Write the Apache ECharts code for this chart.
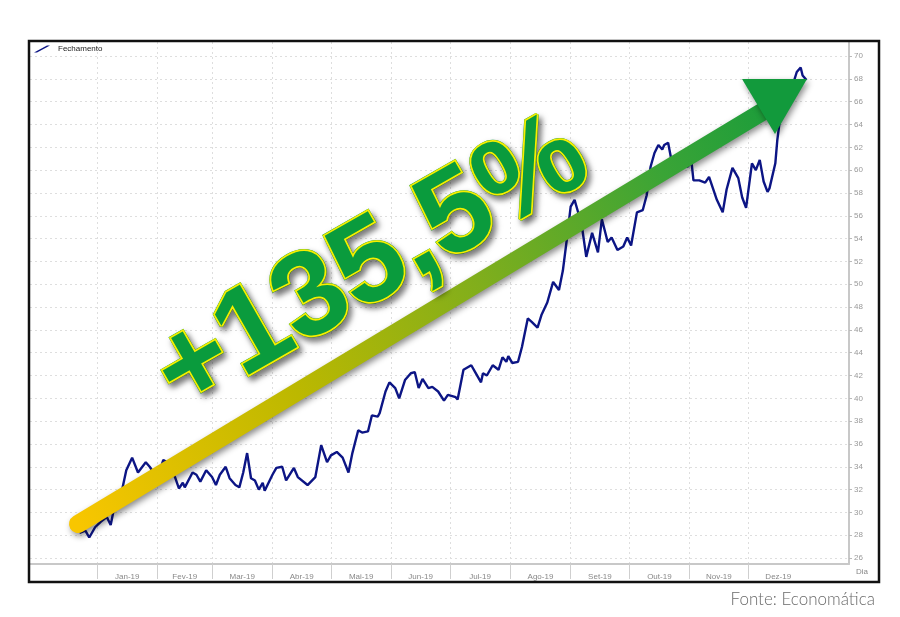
<!DOCTYPE html>
<html>
<head>
<meta charset="utf-8">
<title>Fechamento 2019</title>
<script src="https://cdn.jsdelivr.net/npm/echarts@6/dist/echarts.min.js"></script>
<style>
  html, body { margin: 0; padding: 0; background: #fff; }
  #chart { width: 900px; height: 617px; }
</style>
</head>
<body>
<div id="chart"></div>
<script>
// dias contados a partir de 01/01/2019 (negativo = dezembro/2018)
var dias = [-9, -6, -4, -1, 2, 5, 7, 9, 13, 15, 18, 21, 25, 27, 31, 34, 36, 38, 40, 42,
  44, 45, 49, 51, 53, 56, 59, 61, 63, 66, 68, 71, 73, 75, 77, 79, 81, 83, 85, 86,
  90, 92, 95, 97, 101, 103, 108, 112, 115, 118, 120, 123, 126, 129, 131, 134, 136, 139, 141, 144,
  145, 148, 150, 153, 155, 158, 161, 163, 164, 165, 167, 170, 172, 175, 178, 180, 184, 185, 188, 192,
  194, 197, 198, 200, 203, 206, 208, 210, 211, 213, 216, 218, 221, 223, 226, 228, 231, 234, 237, 239,
  241, 243, 245, 247, 249, 251, 254, 257, 259, 262, 264, 267, 270, 272, 274, 277, 280, 282, 284, 286,
  288, 290, 291, 293, 295, 299, 303, 305, 306, 309, 312, 314, 316, 318, 321, 323, 326, 329, 331, 333,
  336, 338, 340, 342, 344, 345, 348, 349, 351, 354, 357, 359, 361, 362, 364];

var fechamento = [28.2, 28.4, 27.8, 28.7, 29.2, 29.6, 28.9, 30.6, 32.1, 33.7, 34.8, 33.5, 34.4, 34.0, 33.0, 34.6, 34.4, 33.7, 33.1, 32.1,
  32.6, 32.2, 33.5, 33.3, 32.7, 33.7, 33.1, 32.4, 33.3, 34.0, 33.0, 32.4, 32.2, 33.5, 35.2, 33.0, 32.8, 32.0, 32.6, 31.9,
  33.3, 33.9, 34.0, 32.8, 33.9, 33.1, 32.4, 33.1, 35.9, 34.4, 35.0, 35.3, 34.8, 33.5, 35.2, 37.2, 37.0, 37.1, 38.5, 38.4,
  38.7, 40.6, 41.4, 40.9, 40.0, 41.6, 42.2, 42.3, 42.2, 40.9, 41.7, 40.9, 41.0, 40.6, 39.8, 40.3, 40.1, 39.9, 42.5, 42.9,
  42.3, 41.4, 42.2, 42.0, 42.9, 42.5, 43.6, 43.2, 43.7, 43.1, 43.2, 44.5, 47.0, 46.7, 46.2, 47.3, 48.4, 50.2, 49.5, 51.2,
  53.9, 56.8, 57.4, 56.2, 54.8, 52.4, 54.5, 52.8, 55.7, 53.7, 54.1, 53.0, 53.3, 54.1, 53.4, 56.3, 56.5, 57.8, 60.3, 61.5,
  62.2, 61.8, 62.2, 62.4, 60.6, 60.5, 60.3, 60.7, 59.1, 59.1, 58.9, 59.4, 58.4, 57.4, 56.3, 58.3, 60.2, 59.3, 57.6, 56.7,
  60.6, 60.0, 60.9, 59.0, 58.1, 58.4, 60.6, 62.6, 65.3, 66.6, 67.5, 68.6, 69.0, 68.3, 67.9];

// inicio de cada mes e meio do mes (em dias)
var iniciosMes = [0, 31, 59, 90, 120, 151, 181, 212, 243, 273, 304, 334];
var meiosMes = [15.5, 45, 74.5, 105, 135.5, 166, 196.5, 227.5, 258, 288.5, 319, 349.5];
var nomesMes = ['Jan-19', 'Fev-19', 'Mar-19', 'Abr-19', 'Mai-19', 'Jun-19',
  'Jul-19', 'Ago-19', 'Set-19', 'Out-19', 'Nov-19', 'Dez-19'];
var ticksY = [26, 28, 30, 32, 34, 36, 38, 40, 42, 44, 46, 48, 50, 52, 54, 56, 58, 60, 62, 64, 66, 68, 70];

var chart = echarts.init(document.getElementById('chart'));

var pontos = dias.map(function (d, i) { return [d, fechamento[i]]; });

var gradSeta = {
  type: 'linear', x: 78, y: 524, x2: 806, y2: 80, global: true,
  colorStops: [
    { offset: 0, color: '#f8c600' },
    { offset: 0.3, color: '#bcb800' },
    { offset: 0.55, color: '#80ae1c' },
    { offset: 0.8, color: '#3aa436' },
    { offset: 1, color: '#129a3c' }
  ]
};

var fonteTexto = 'bold 120px "Liberation Sans", Arial, sans-serif';

chart.setOption({
  animation: false,
  textStyle: { fontFamily: 'Liberation Sans, Arial, sans-serif' },
  legend: {
    left: 34, top: 45, padding: 0,
    itemWidth: 16, itemHeight: 7,
    symbolKeepAspect: false,
    icon: 'path://M0,7 L13,0 L16,0 L3,7 Z',
    textStyle: { fontSize: 8, color: '#222', padding: [0, 0, 0, 3] },
    data: ['Fechamento']
  },
  grid: { left: 30, right: 51, top: 42, bottom: 53 },
  xAxis: {
    type: 'value',
    min: -34.4, max: 385.8,
    name: 'Dia', nameLocation: 'end', nameGap: 7,
    nameTextStyle: { fontSize: 8, color: '#888', verticalAlign: 'top', padding: [4, 0, 0, 0] },
    axisLine: { onZero: false, lineStyle: { color: '#c8c8c8', width: 2 } },
    axisTick: { show: true, customValues: iniciosMes, length: 15, lineStyle: { color: '#cfcfcf' } },
    axisLabel: {
      customValues: meiosMes, fontSize: 8, color: '#888', margin: 9,
      formatter: function (v) { return nomesMes[meiosMes.indexOf(v)] || ''; }
    },
    splitLine: { show: true, lineStyle: { color: '#dedede', type: [2, 3] } }
  },
  yAxis: {
    type: 'value', position: 'right',
    min: 25.48, max: 71.23,
    axisLine: { show: true, onZero: false, lineStyle: { color: '#c8c8c8', width: 2 } },
    axisTick: { show: true, customValues: ticksY, length: 3, lineStyle: { color: '#bbb' } },
    axisLabel: { customValues: ticksY, fontSize: 8, color: '#999', margin: 5 },
    splitLine: { show: true, lineStyle: { color: '#dedede', type: [2, 3] } }
  },
  series: [{
    name: 'Fechamento',
    type: 'line',
    data: pontos,
    showSymbol: false,
    symbol: 'none',
    color: '#0c1585',
    lineStyle: { width: 2.4, color: '#0c1585' }
  }],
  graphic: [
    // moldura
    { type: 'rect', z: 50, silent: true,
      shape: { x: 29, y: 41, width: 850, height: 541 },
      style: { fill: 'none', stroke: '#111', lineWidth: 2.5 } },
    // corpo da seta
    { type: 'line', z: 100, silent: true,
      shape: { x1: 78, y1: 524, x2: 762, y2: 112 },
      style: { stroke: gradSeta, lineWidth: 18, lineCap: 'round',
        shadowBlur: 6, shadowColor: 'rgba(0,0,0,0.45)', shadowOffsetX: 2, shadowOffsetY: 3 } },
    // ponta da seta
    { type: 'polygon', z: 101, silent: true,
      shape: { points: [[742, 79], [807, 79], [775, 134]] },
      style: { fill: '#129a3c',
        shadowBlur: 6, shadowColor: 'rgba(0,0,0,0.45)', shadowOffsetX: 2, shadowOffsetY: 3 } },
    // sombra do texto
    { type: 'text', z: 102, silent: true,
      x: 372, y: 266, rotation: 0.52,
      style: {
        text: '+135,5%', font: fonteTexto,
        fill: '#0a9b3d', stroke: '#0a9b3d', lineWidth: 4,
        align: 'center', verticalAlign: 'middle',
        textShadowBlur: 6, textShadowColor: 'rgba(0,0,0,0.5)',
        textShadowOffsetX: 3, textShadowOffsetY: 4
      } },
    // texto
    { type: 'text', z: 103, silent: true,
      x: 372, y: 266, rotation: 0.52,
      style: {
        text: '+135,5%', font: fonteTexto,
        fill: '#0a9b3d', stroke: '#f6ee00', lineWidth: 3.5,
        align: 'center', verticalAlign: 'middle'
      } },
    // fonte
    { type: 'text', z: 50, silent: true,
      x: 875, y: 600,
      style: { text: 'Fonte: Economática', font: '300 17px Lato, "Open Sans", sans-serif',
        fill: '#6a6a6a', align: 'right', verticalAlign: 'middle' } }
  ]
});
</script>
</body>
</html>
